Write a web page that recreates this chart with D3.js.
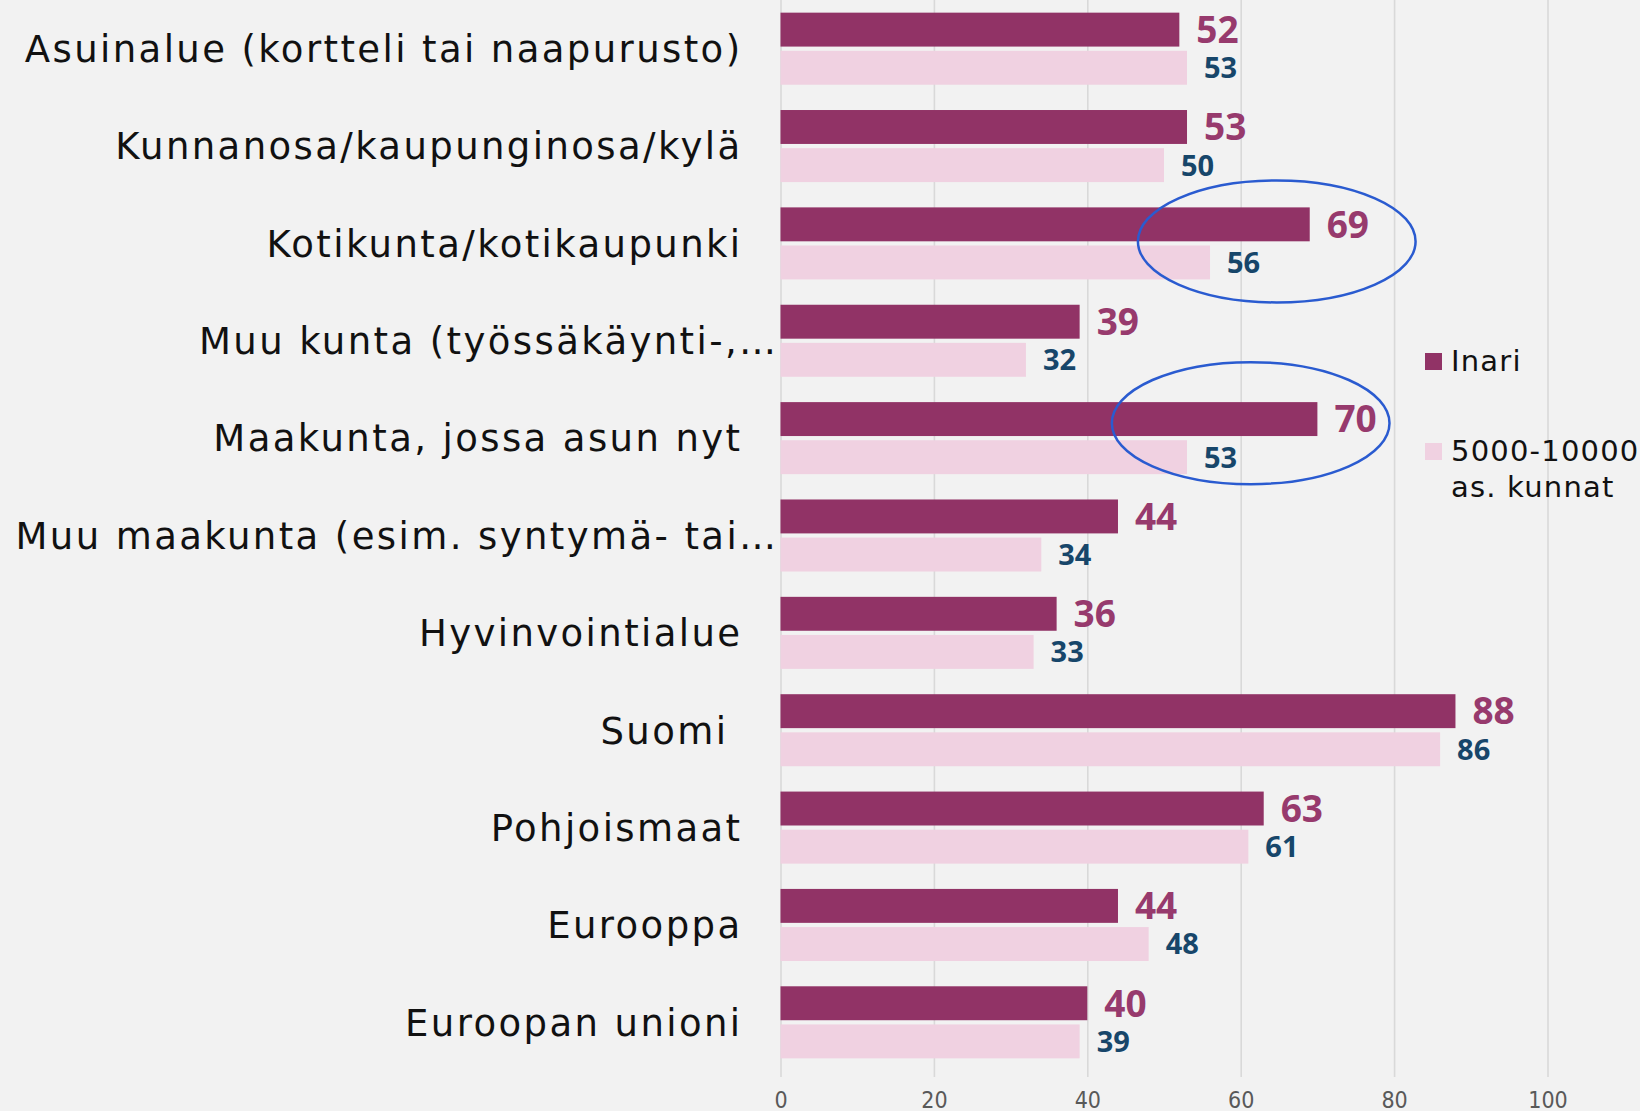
<!DOCTYPE html>
<html lang="fi">
<head>
<meta charset="UTF-8">
<title>Inari</title>
<script src="https://cdn.jsdelivr.net/npm/d3@7"></script>
<style>
    html, body { margin: 0; padding: 0; background: #f2f2f2; }
    svg { display: block; }
    .cat { font-family: 'DejaVu Sans', 'Open Sans', sans-serif; font-size: 37px; letter-spacing: 2.4px; fill: #111; white-space: pre; }
    .val { font-family: 'Open Sans', Roboto, sans-serif; font-weight: 700; }
    .tick text { font-family: 'Liberation Sans Narrow', 'DejaVu Sans Condensed', sans-serif; font-size: 23px; fill: #595959; }
    .legend text { font-family: 'DejaVu Sans', 'Open Sans', sans-serif; font-size: 29px; letter-spacing: 1.2px; fill: #111; }
</style>
</head>
<body>
<div id="chart"></div>
<script>
    var w = 1640;
    var h = 1111;

    // data
    var categories = [
        "Asuinalue (kortteli tai naapurusto)",
        "Kunnanosa/kaupunginosa/kylä",
        "Kotikunta/kotikaupunki",
        "Muu kunta (työssäkäynti-,…",
        "Maakunta, jossa asun nyt",
        "Muu maakunta (esim. syntymä- tai…",
        "Hyvinvointialue",
        "Suomi ",
        "Pohjoismaat",
        "Eurooppa",
        "Euroopan unioni"
    ];
    var seriesNames = ["Inari", "5000-10000 as. kunnat"];
    var inari  = [52, 53, 69, 39, 70, 44, 36, 88, 63, 44, 40];
    var kunnat = [53, 50, 56, 32, 53, 34, 33, 86, 61, 48, 39];
    var xTicks = [0, 20, 40, 60, 80, 100];
    // circled highlights: category, centre value, vertical shift, radius in value units
    var highlights = [
        {cat: "Kotikunta/kotikaupunki",   x: 64.7, dy: -2,  rx: 18.1, ry: 61},
        {cat: "Maakunta, jossa asun nyt", x: 61.3, dy: -15, rx: 18.1, ry: 61}
    ];

    var barColors = ["#913366", "#f0d1e1"];
    var labelColors = ["#973a6d", "#17466a"];
    var labelSizes = [37, 29];

    var plotLeft = 780.5, plotRight = 1547.5, plotTop = 0, plotBottom = 1071;

    var svg = d3.select("#chart")
      .append("svg")
      .attr("width", w)
      .attr("height", h)
      .attr("xmlns", "http://www.w3.org/2000/svg");

    svg.append("rect").attr("width", w).attr("height", h).attr("fill", "#f2f2f2");

    var x = d3.scaleLinear().domain([0, 100]).range([plotLeft, plotRight]);
    var y = d3.scaleBand().domain(categories).range([plotTop, plotBottom])
        .paddingInner(0.26).paddingOuter(0.13);
    var ySub = d3.scaleBand().domain(seriesNames).range([0, y.bandwidth()]).paddingInner(0.11);

    // gridlines + tick labels
    var axis = d3.axisBottom(x).tickValues(xTicks).tickSize(-(plotBottom + 6)).tickPadding(0);
    var gAxis = svg.append("g")
        .attr("transform", "translate(0," + (plotBottom + 6) + ")")
        .call(axis);
    gAxis.select(".domain").remove();
    gAxis.selectAll(".tick line").attr("stroke", "#d9d9d9").attr("stroke-width", 1.6);
    gAxis.selectAll(".tick text").attr("y", 31).attr("dy", 0);

    var rows = categories.map(function(c, i) {
        return {cat: c, values: [inari[i], kunnat[i]]};
    });

    var groups = svg.selectAll(".grp")
        .data(rows)
        .enter().append("g")
        .attr("class", "grp")
        .attr("transform", function(d) { return "translate(0," + y(d.cat) + ")"; });

    groups.selectAll("rect")
        .data(function(d) { return d.values.map(function(v, j) { return {v: v, s: seriesNames[j], j: j}; }); })
        .enter().append("rect")
        .attr("x", x(0))
        .attr("y", function(d) { return ySub(d.s); })
        .attr("width", function(d) { return x(d.v) - x(0); })
        .attr("height", ySub.bandwidth())
        .attr("fill", function(d) { return barColors[d.j]; });

    groups.selectAll(".val")
        .data(function(d) { return d.values.map(function(v, j) { return {v: v, s: seriesNames[j], j: j}; }); })
        .enter().append("text")
        .attr("class", "val")
        .attr("x", function(d) { return x(d.v) + 17; })
        .attr("y", function(d) { return ySub(d.s) + ySub.bandwidth() / 2; })
        .attr("dy", "0.36em")
        .attr("fill", function(d) { return labelColors[d.j]; })
        .style("font-size", function(d) { return labelSizes[d.j] + "px"; })
        .text(function(d) { return d.v; });

    // category labels
    svg.selectAll(".cat")
        .data(categories)
        .enter().append("text")
        .attr("class", "cat")
        .attr("text-anchor", "end")
        .attr("x", function(d) { return d.indexOf("…") >= 0 ? plotLeft - 2 : plotLeft - 38; })
        .attr("y", function(d) { return y(d) + y.bandwidth() / 2; })
        .attr("dy", "0.36em")
        .text(function(d) { return d; });

    // highlight ellipses
    svg.selectAll(".hl")
        .data(highlights)
        .enter().append("ellipse")
        .attr("class", "hl")
        .attr("cx", function(d) { return x(d.x); })
        .attr("cy", function(d) { return y(d.cat) + y.bandwidth() / 2 + d.dy; })
        .attr("rx", function(d) { return x(d.rx) - x(0); })
        .attr("ry", function(d) { return d.ry; })
        .attr("fill", "none")
        .attr("stroke", "#2a5bd0")
        .attr("stroke-width", 2.5);

    // legend
    var legend = svg.append("g").attr("class", "legend");
    var leg = legend.selectAll("g")
        .data(seriesNames)
        .enter().append("g")
        .attr("transform", function(d, i) { return "translate(1425," + (353 + i * 90) + ")"; });
    leg.append("rect")
        .attr("width", 17).attr("height", 17)
        .attr("fill", function(d, i) { return barColors[i]; });
    leg.append("text")
        .attr("x", 26)
        .attr("y", 18)
        .each(function(d) {
            var parts = d === "Inari" ? [d] : ["5000-10000", "as. kunnat"];
            var t = d3.select(this);
            parts.forEach(function(p, k) {
                t.append("tspan").attr("x", 26).attr("dy", k === 0 ? 0 : 36).text(p);
            });
        });
</script>
</body>
</html>
